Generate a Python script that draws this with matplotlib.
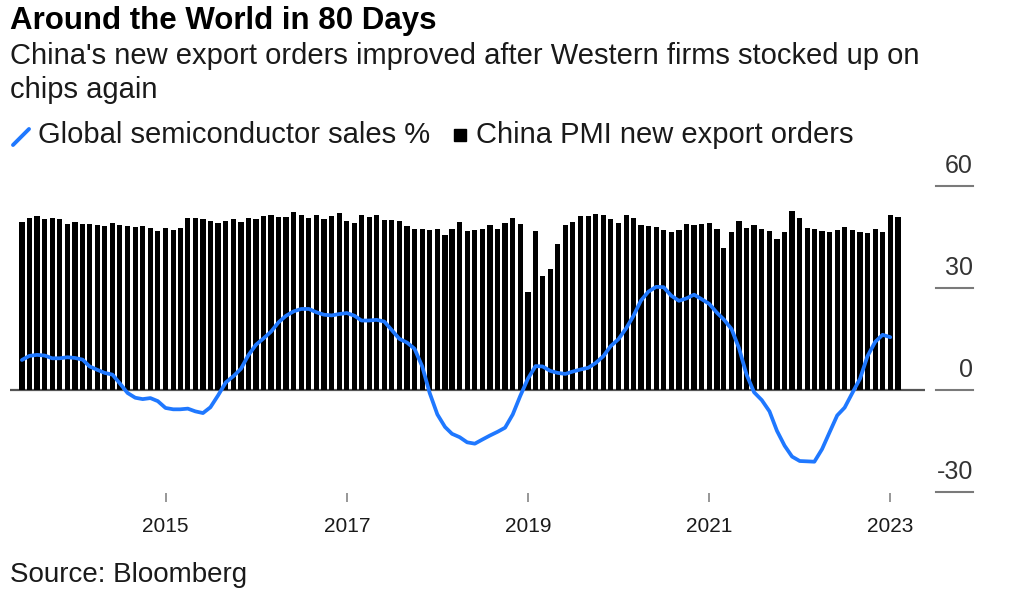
import matplotlib
matplotlib.use("Agg")
import matplotlib.pyplot as plt
from matplotlib.lines import Line2D
from matplotlib.patches import Rectangle
import pandas as pd

plt.rcParams['font.family'] = ['Liberation Sans', 'DejaVu Sans']

# monthly bars, June 2013 onwards (positions as drawn on the chart)
months = pd.date_range('2013-06-01', periods=117, freq='MS')

pmi_export = [
    49.5, 50.5, 51.2, 50.2, 50.5, 50.1, 48.7, 49.4, 48.7, 48.7,
    48.6, 48.3, 49.1, 48.5, 48.2, 48.0, 48.2, 47.5, 46.6, 47.6,
    47.1, 47.5, 50.4, 50.4, 50.2, 49.8, 49.2, 49.8, 50.3, 49.4,
    50.5, 50.2, 51.2, 51.3, 50.9, 50.9, 52.2, 51.3, 50.6, 51.5,
    50.3, 51.1, 52.1, 49.7, 49.1, 51.5, 50.9, 51.4, 50.0, 50.0,
    49.6, 48.2, 47.2, 47.2, 46.9, 47.2, 45.4, 47.4, 49.4, 46.6,
    47.1, 47.4, 48.5, 47.2, 49.0, 50.4, 48.8, 28.8, 46.6, 33.6,
    35.4, 42.8, 48.6, 49.4, 51.1, 51.2, 51.7, 51.5, 50.3, 49.0,
    51.4, 50.6, 48.6, 48.3, 47.9, 46.9, 46.5, 46.9, 48.7, 48.5,
    48.7, 49.2, 47.4, 41.7, 46.4, 49.7, 47.5, 48.4, 47.2, 46.8,
    44.3, 46.3, 52.5, 50.5, 47.7, 47.4, 46.6, 46.5, 46.9, 48.0,
    47.0, 46.5, 46.0, 47.3, 46.4, 51.4, 50.7,
]

semi_sales = [
    8.8, 10.0, 10.3, 10.1, 9.3, 9.3, 9.6, 9.4, 8.9, 6.9,
    5.9, 5.0, 4.5, 1.9, -0.9, -2.3, -2.7, -2.4, -3.3, -5.3,
    -5.7, -5.7, -5.5, -6.3, -6.8, -5.1, -1.6, 2.2, 4.0, 6.2,
    10.2, 13.3, 15.2, 17.1, 19.9, 21.8, 23.1, 23.8, 23.8, 22.8,
    22.1, 21.9, 22.3, 22.6, 21.8, 20.4, 20.4, 20.6, 20.1, 17.6,
    15.0, 13.9, 12.1, 6.9, -0.9, -7.2, -10.9, -12.9, -13.9, -15.4,
    -15.8, -14.6, -13.4, -12.3, -11.1, -7.2, -1.8, 3.3, 7.0, 6.9,
    5.6, 5.0, 4.7, 5.4, 6.0, 6.5, 7.9, 9.9, 12.9, 14.9,
    18.1, 21.7, 26.3, 28.9, 30.3, 30.2, 27.7, 26.2, 26.9, 28.0,
    26.7, 25.3, 22.7, 20.7, 17.9, 12.3, 4.4, -0.7, -3.0, -6.3,
    -12.0, -16.4, -19.6, -20.9, -21.0, -21.1, -17.4, -12.5, -7.5, -5.2,
    -0.9, 3.3, 9.9, 14.1, 16.2, 15.5,
]

year_ticks = [2015, 2017, 2019, 2021, 2023]
y_ticks = [60, 30, 0, -30]

BLUE = '#1f78ff'
GREY = '#7a7a7a'
TEXT = '#1a1a1a'

W, H = 1024, 609
fig = plt.figure(figsize=(W / 100, H / 100), dpi=100, facecolor='white')
ax = fig.add_axes([10 / W, 1 - 493 / H, 915 / W, 314 / H])

ax.axhline(0, color='#555555', lw=1.6, zorder=1)
ax.bar(months, pmi_export, width=21, color='black', zorder=2)
ax.plot(months[:len(semi_sales)], semi_sales, color=BLUE, lw=2.7, zorder=3,
        solid_capstyle='round', solid_joinstyle='round')

ax.set_xlim(pd.Timestamp('2013-04-14'), pd.Timestamp('2023-05-21'))
ax.set_ylim(-30.3, 62)

for s in ax.spines.values():
    s.set_visible(False)

ax.set_xticks([pd.Timestamp(f'{y}-01-01') for y in year_ticks])
ax.set_xticklabels([str(y) for y in year_ticks])
ax.tick_params(axis='x', length=6.5, width=1.1, color=GREY, pad=11,
               labelsize=15, labelcolor=TEXT)
ax.set_yticks([])

# Bloomberg-style right axis: label sitting over a short rule
ytr = ax.get_yaxis_transform()
for t in y_ticks:
    ax.plot([1.012, 1.0525], [t, t], transform=ytr, clip_on=False,
            color=GREY, lw=1.5)
    ax.text(1.0525, t + 3.8, str(t), transform=ytr, ha='right', va='baseline',
            fontsize=18, color='#333333')

# header
fig.text(10 / W, 1 - 29 / H, 'Around the World in 80 Days', fontsize=22.5,
         fontweight='bold', color='black', va='baseline')
fig.text(10 / W, 1 - 64 / H,
         "China's new export orders improved after Western firms stocked up on",
         fontsize=21, color=TEXT, va='baseline')
fig.text(10 / W, 1 - 98 / H, 'chips again', fontsize=21, color=TEXT,
         va='baseline')

# legend
fig.add_artist(Line2D([13 / W, 29 / W], [1 - 145 / H, 1 - 129 / H],
                      color=BLUE, lw=2.8, solid_capstyle='round'))
fig.text(38 / W, 1 - 143 / H, 'Global semiconductor sales %', fontsize=21,
         color=TEXT, va='baseline')
fig.add_artist(Rectangle((454 / W, 1 - 141 / H), 12 / W, 12 / H,
                         transform=fig.transFigure, color='black'))
fig.text(476 / W, 1 - 143 / H, 'China PMI new export orders', fontsize=21,
         color=TEXT, va='baseline')

fig.text(10 / W, 1 - 582 / H, 'Source: Bloomberg', fontsize=20, color=TEXT,
         va='baseline')

fig.savefig('out.png', dpi=100, facecolor='white')
